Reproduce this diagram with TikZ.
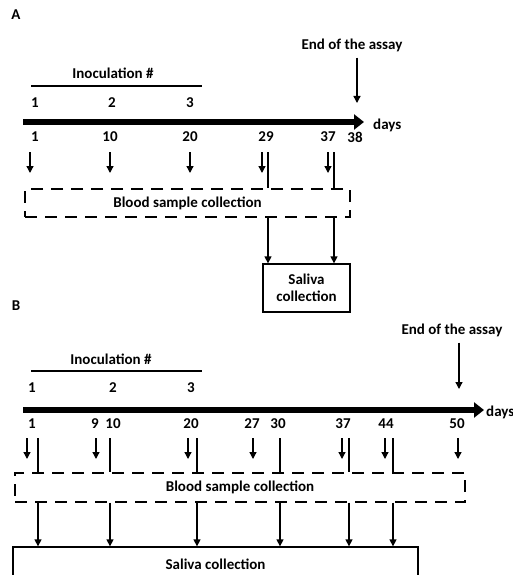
\documentclass[tikz,border=0pt]{standalone}
\usepackage{fontspec}
\setmainfont{Carlito}
\usetikzlibrary{arrows.meta}

\begin{document}
\begin{tikzpicture}[
        x=1pt, y=-1pt,
        every node/.style={font=\bfseries\fontsize{15}{17}\selectfont, inner sep=0pt},
        box/.style={
            draw,
            line width=1.3pt,
            align=center
        },
        dashedbox/.style={
            draw,
            line width=1.3pt,
            dash pattern=on 12pt off 8pt
        },
        link/.style={line width=1.3pt},
        arrow/.style={-{Triangle[length=7pt,width=7pt]}, line width=1.3pt},
        timeline/.style={-{Triangle[length=10pt,width=15pt]}, line width=6.5pt}
    ]
    \useasboundingbox (0,0) rectangle (512,575);

    % =========================
    % Panel A
    % =========================
    \node (labA) at (16,15) {A};
    \node (endA) at (352,45) {End of the assay};
    \coordinate (endAtip) at (357,103);
    \draw[arrow, shorten <=6pt] (endA.south -| endAtip) -- (endAtip);

    \node (inocA) at (113,73) {Inoculation \#};
    \coordinate (inocAl) at (31,86);
    \coordinate (inocAr) at (202,86);
    \draw[link] (inocAl) -- (inocAr);

    \node (iA1) at (35,103) {1};
    \node (iA2) at (112,103) {2};
    \node (iA3) at (190,103) {3};

    \coordinate (tlA0) at (23,122);
    \coordinate (tlA1) at (364,122);
    \draw[timeline] (tlA0) -- (tlA1);
    \node[anchor=west] (daysA) at (373,125) {days};

    \node (dA1) at (35,137) {1};
    \node (dA10) at (110,137) {10};
    \node (dA20) at (190,137) {20};
    \node (dA29) at (266,137) {29};
    \node (dA37) at (328,137) {37};
    \node (dA38) at (355,137) {38};

    \node[dashedbox, minimum width=325pt, minimum height=28pt] (bloodA) at (187.5,203) {Blood sample collection};
    \node[box, minimum width=87pt, minimum height=48pt] (salivaA) at (306.5,288) {Saliva\\collection};

    % blood sampling days
    \coordinate (bA1) at (30,152);
    \coordinate (bA10) at (110,152);
    \coordinate (bA20) at (190,152);
    \coordinate (bA29) at (262,152);
    \coordinate (bA37) at (328,152);
    \draw[arrow] (bA1) -- ++(0,21);
    \draw[arrow] (bA10) -- ++(0,21);
    \draw[arrow] (bA20) -- ++(0,21);
    \draw[arrow] (bA29) -- ++(0,21);
    \draw[arrow] (bA37) -- ++(0,21);

    % saliva sampling days
    \coordinate (sA29) at (268,152);
    \coordinate (sA37) at (334,152);
    \draw[link] (sA29) -- (sA29 |- bloodA.north);
    \draw[link] (sA37) -- (sA37 |- bloodA.north);
    \draw[arrow] (sA29 |- bloodA.south) -- (sA29 |- salivaA.north);
    \draw[arrow] (sA37 |- bloodA.south) -- (sA37 |- salivaA.north);

    % =========================
    % Panel B
    % =========================
    \node (labB) at (16,306) {B};
    \node (endB) at (452,330) {End of the assay};
    \coordinate (endBtip) at (459,389);
    \draw[arrow, shorten <=6pt] (endB.south -| endBtip) -- (endBtip);

    \node (inocB) at (111,359) {Inoculation \#};
    \coordinate (inocBl) at (31,371);
    \coordinate (inocBr) at (202,371);
    \draw[link] (inocBl) -- (inocBr);

    \node (iB1) at (32,388) {1};
    \node (iB2) at (113,388) {2};
    \node (iB3) at (191,388) {3};

    \coordinate (tlB0) at (23,410);
    \coordinate (tlB1) at (484,410);
    \draw[timeline] (tlB0) -- (tlB1);
    \node[anchor=west] (daysB) at (486,412) {days};

    \node (dB1) at (32,424) {1};
    \node (dB9) at (95,424) {9};
    \node (dB10) at (113,424) {10};
    \node (dB20) at (191,424) {20};
    \node (dB27) at (252,424) {27};
    \node (dB30) at (278,424) {30};
    \node (dB37) at (343,424) {37};
    \node (dB44) at (386,424) {44};
    \node (dB50) at (457,424) {50};

    \node[dashedbox, minimum width=450pt, minimum height=29pt] (bloodB) at (240,487.5) {Blood sample collection};
    \node[box, minimum width=405pt, minimum height=34pt] (salivaB) at (215.5,564) {Saliva collection};

    % blood sampling days
    \coordinate (bB1) at (27,438);
    \coordinate (bB9) at (96,438);
    \coordinate (bB20) at (188,438);
    \coordinate (bB27) at (253,438);
    \coordinate (bB37) at (342,438);
    \coordinate (bB44) at (385,438);
    \coordinate (bB50) at (458,438);
    \draw[arrow] (bB1) -- ++(0,21);
    \draw[arrow] (bB9) -- ++(0,21);
    \draw[arrow] (bB20) -- ++(0,21);
    \draw[arrow] (bB27) -- ++(0,21);
    \draw[arrow] (bB37) -- ++(0,21);
    \draw[arrow] (bB44) -- ++(0,21);
    \draw[arrow] (bB50) -- ++(0,21);

    % saliva sampling days
    \coordinate (sB1) at (38,438);
    \coordinate (sB10) at (110,438);
    \coordinate (sB20) at (197,438);
    \coordinate (sB30) at (280,438);
    \coordinate (sB37) at (349,438);
    \coordinate (sB44) at (393,438);
    \draw[link] (sB1) -- (sB1 |- bloodB.north);
    \draw[link] (sB10) -- (sB10 |- bloodB.north);
    \draw[link] (sB20) -- (sB20 |- bloodB.north);
    \draw[link] (sB30) -- (sB30 |- bloodB.north);
    \draw[link] (sB37) -- (sB37 |- bloodB.north);
    \draw[link] (sB44) -- (sB44 |- bloodB.north);
    \draw[arrow] (sB1 |- bloodB.south) -- (sB1 |- salivaB.north);
    \draw[arrow] (sB10 |- bloodB.south) -- (sB10 |- salivaB.north);
    \draw[arrow] (sB20 |- bloodB.south) -- (sB20 |- salivaB.north);
    \draw[arrow] (sB30 |- bloodB.south) -- (sB30 |- salivaB.north);
    \draw[arrow] (sB37 |- bloodB.south) -- (sB37 |- salivaB.north);
    \draw[arrow] (sB44 |- bloodB.south) -- (sB44 |- salivaB.north);

\end{tikzpicture}
\end{document}
